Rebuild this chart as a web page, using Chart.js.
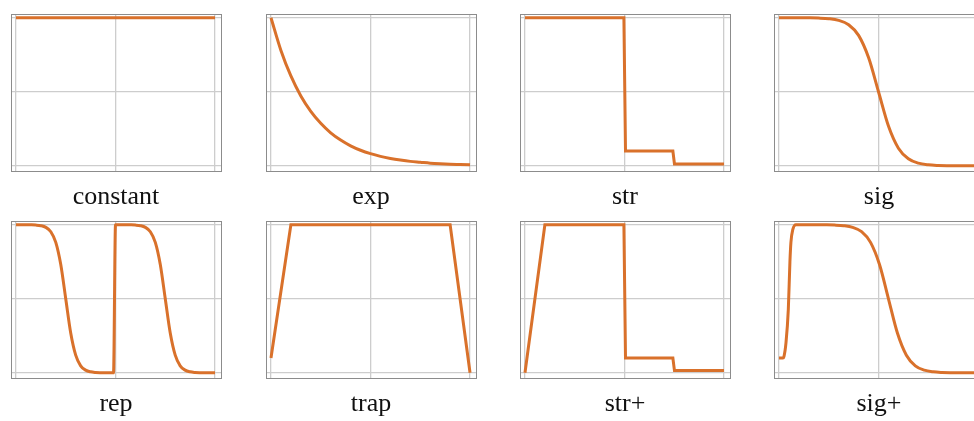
<!DOCTYPE html>
<html>
<head>
<meta charset="utf-8">
<script src="https://cdn.jsdelivr.net/npm/chart.js@4.4.0/dist/chart.umd.min.js"></script>
<style>
  html, body { margin: 0; padding: 0; background: #fff; overflow: hidden; }
  #panels { position: relative; width: 974px; height: 421px; overflow: hidden; background: #fff; }
  #panels canvas { position: absolute; }
</style>
</head>
<body>
<div id="panels"></div>
<script>
// ---- schedule shapes: x runs 0..1, value runs 0..1 ----
const panelNames = ['constant', 'exp', 'str', 'sig', 'rep', 'trap', 'str+', 'sig+'];

const xTicks = [0, 0.5, 1];
const yTicks = [0, 0.5, 1];

const constantX = [0, 1];
const constantY = [1, 1];

const expX = [0, 0.05, 0.1, 0.15, 0.2, 0.25, 0.3, 0.35, 0.4, 0.45, 0.5,
              0.55, 0.6, 0.65, 0.7, 0.75, 0.8, 0.85, 0.9, 0.95, 1];
const expY = [1, 0.779, 0.607, 0.472, 0.368, 0.287, 0.223, 0.174, 0.135, 0.105, 0.082,
              0.064, 0.05, 0.039, 0.03, 0.024, 0.018, 0.014, 0.011, 0.009, 0.007];

const strX = [0, 0.497, 0.505, 0.743, 0.751, 1];
const strY = [1, 1, 0.1, 0.1, 0.012, 0.012];

const sigX = [0, 0.05, 0.1, 0.15, 0.2, 0.25, 0.3, 0.35, 0.4, 0.45, 0.5,
              0.55, 0.6, 0.65, 0.7, 0.75, 0.8, 0.85, 0.9, 0.95, 1];
const sigY = [1, 0.9999, 0.9997, 0.9991, 0.9975, 0.9933, 0.982, 0.9526, 0.8808, 0.7311, 0.5,
              0.2689, 0.1192, 0.0474, 0.018, 0.0067, 0.0025, 0.0009, 0.0003, 0.0001, 0];

const repX = [0, 0.025, 0.05, 0.075, 0.1, 0.125, 0.15, 0.175, 0.2, 0.225, 0.25,
              0.275, 0.3, 0.325, 0.35, 0.375, 0.4, 0.425, 0.45, 0.475, 0.49,
              0.5, 0.525, 0.55, 0.575, 0.6, 0.625, 0.65, 0.675, 0.7, 0.725, 0.75,
              0.775, 0.8, 0.825, 0.85, 0.875, 0.9, 0.925, 0.95, 0.975, 1];
const repY = [1, 0.9999, 0.9997, 0.9991, 0.9975, 0.9933, 0.982, 0.9526, 0.8808, 0.7311, 0.5,
              0.2689, 0.1192, 0.0474, 0.018, 0.0067, 0.0025, 0.0009, 0.0003, 0.0001, 0,
              1, 0.9999, 0.9997, 0.9991, 0.9975, 0.9933, 0.982, 0.9526, 0.8808, 0.7311, 0.5,
              0.2689, 0.1192, 0.0474, 0.018, 0.0067, 0.0025, 0.0009, 0.0003, 0.0001, 0];

const trapX = [0, 0.1, 0.9, 1];
const trapY = [0.1, 1, 1, 0];

const strPlusX = [0, 0.1, 0.497, 0.505, 0.743, 0.751, 1];
const strPlusY = [0, 1, 1, 0.1, 0.1, 0.015, 0.015];

const sigPlusX = [0, 0.02, 0.025, 0.035, 0.047, 0.055, 0.06, 0.07, 0.085, 0.1,
                  0.145, 0.19, 0.235, 0.28, 0.325, 0.37, 0.415, 0.46, 0.505, 0.55,
                  0.595, 0.64, 0.685, 0.73, 0.775, 0.82, 0.865, 0.91, 0.955, 1];
const sigPlusY = [0.1, 0.1, 0.11, 0.2, 0.43, 0.75, 0.88, 0.97, 1, 1,
                  0.9999, 0.9997, 0.9991, 0.9975, 0.9933, 0.982, 0.9526, 0.8808, 0.7311, 0.5,
                  0.2689, 0.1192, 0.0474, 0.018, 0.0067, 0.0025, 0.0009, 0.0003, 0.0001, 0];

const panelSeries = {
  'constant': [constantX, constantY, false],
  'exp':      [expX, expY, true],
  'str':      [strX, strY, false],
  'sig':      [sigX, sigY, true],
  'rep':      [repX, repY, true],
  'trap':     [trapX, trapY, false],
  'str+':     [strPlusX, strPlusY, false],
  'sig+':     [sigPlusX, sigPlusY, true]
};

// ---- look ----
const LINE = '#d9712b';
const FRAME = '#8c8c8c';
const GRID = '#cdcdcd';
const PAD = 8;
const FRAME_W = 210;
const FRAME_H = 157;
const colLefts = [11, 266, 520, 774];
const rowTops = [14, 221];

function tickSetter(values) {
  return axis => { axis.ticks = values.map(v => ({ value: v })); };
}

function scalesFor(title) {
  const hidden = { display: false };
  return {
    x: {
      type: 'linear', position: 'bottom', min: -0.025, max: 1.03,
      afterBuildTicks: tickSetter(xTicks),
      ticks: hidden,
      grid: { color: GRID, lineWidth: 1.3, drawTicks: false },
      border: { display: true, color: FRAME, width: 1 },
      title: {
        display: true, text: title, color: '#111',
        font: { family: "'Liberation Serif', serif", size: 26, lineHeight: '28px' },
        padding: { top: 12, bottom: 0 }
      }
    },
    y: {
      type: 'linear', position: 'left', min: -0.035, max: 1.025,
      afterBuildTicks: tickSetter(yTicks),
      ticks: hidden,
      grid: { color: GRID, lineWidth: 1.3, drawTicks: false },
      border: { display: true, color: FRAME, width: 1 }
    },
    xTop: {
      type: 'linear', position: 'top', min: -0.025, max: 1.03,
      ticks: hidden, grid: { display: false, drawTicks: false },
      border: { display: true, color: FRAME, width: 1 }
    },
    yRight: {
      type: 'linear', position: 'right', min: -0.035, max: 1.025,
      ticks: hidden, grid: { display: false, drawTicks: false },
      border: { display: true, color: FRAME, width: 1 }
    }
  };
}

const host = document.getElementById('panels');

panelNames.forEach((name, i) => {
  const [xs, ys, smooth] = panelSeries[name];
  const col = i % 4, row = Math.floor(i / 4);
  const canvas = document.createElement('canvas');
  const w = FRAME_W + 2 * PAD;
  const h = PAD + FRAME_H + 40 + 4;
  canvas.width = w; canvas.height = h;
  canvas.style.width = w + 'px'; canvas.style.height = h + 'px';
  canvas.style.left = (colLefts[col] - PAD) + 'px';
  canvas.style.top = (rowTops[row] - PAD) + 'px';
  host.appendChild(canvas);

  new Chart(canvas, {
    type: 'line',
    data: {
      datasets: [{
        data: xs.map((x, k) => ({ x: x, y: ys[k] })),
        borderColor: LINE,
        borderWidth: 3,
        pointRadius: 0,
        fill: false,
        tension: 0,
        cubicInterpolationMode: smooth ? 'monotone' : 'default'
      }]
    },
    options: {
      responsive: false,
      animation: false,
      devicePixelRatio: 1,
      layout: { padding: { left: PAD, right: PAD, top: PAD, bottom: 4 } },
      plugins: { legend: { display: false }, tooltip: { enabled: false } },
      scales: scalesFor(name)
    }
  });
});
</script>
</body>
</html>
